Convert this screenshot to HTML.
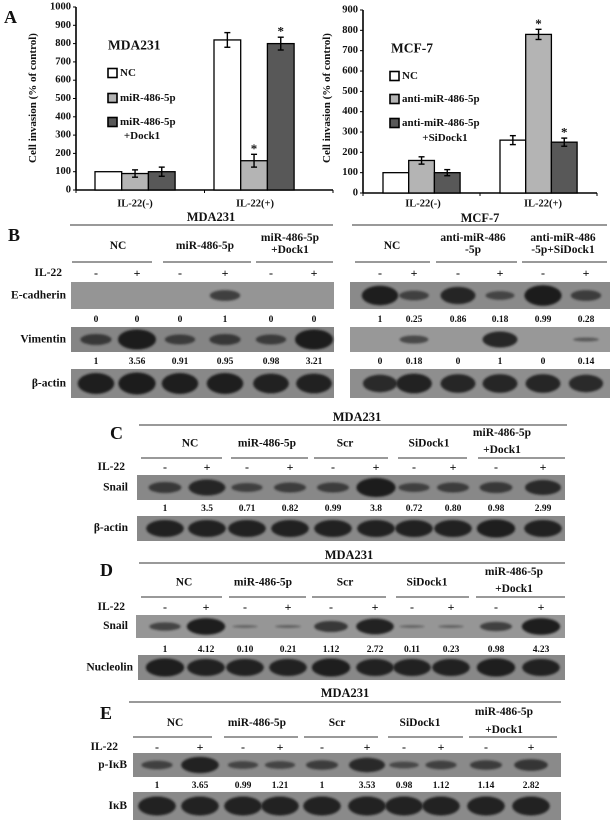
<!DOCTYPE html>
<html><head><meta charset="utf-8"><style>
html,body{margin:0;padding:0;background:#fff}
svg{display:block}
text{font-family:"Liberation Serif",serif;font-weight:bold;fill:#111}
</style></head><body>
<svg id="fig" width="612" height="823" viewBox="0 0 612 823" xmlns="http://www.w3.org/2000/svg">
<defs><filter id="bl" x="-20%" y="-50%" width="140%" height="200%"><feGaussianBlur stdDeviation="1.1"/></filter></defs>
</svg>
<script>
// ---------- Panel A data ----------
const catsA = ["IL-22(-)","IL-22(+)"];
const mdaNC = [100, 820];
const mdaMiR = [90, 160];
const mdaDock = [100, 800];
const mdaErrNC = [0, 40];
const mdaErrMiR = [20, 35];
const mdaErrDock = [25, 35];
const mdaTicks = [0,100,200,300,400,500,600,700,800,900,1000];
const mcfNC = [100, 260];
const mcfAnti = [160, 780];
const mcfSi = [100, 250];
const mcfErrNC = [0, 22];
const mcfErrAnti = [18, 25];
const mcfErrSi = [15, 20];
const mcfTicks = [0,100,200,300,400,500,600,700,800,900];

const S = document.getElementById('fig');
const NS = 'http://www.w3.org/2000/svg';
function el(tag, at, parent){ const e=document.createElementNS(NS,tag); for(const k in at) e.setAttribute(k,at[k]); (parent||S).appendChild(e); return e; }
function txt(x,y,s,size,anchor,name){ const t=el('text',{x:x,y:y,'font-size':size,'text-anchor':anchor||'middle','dominant-baseline':'central'}); t.textContent=s;
  
   return t; }

function barChart(o){
  const g=el('g',{});
  
  
  const y=v=>o.y0-(v/o.max)*(o.y0-o.yTop);
  el('line',{x1:o.ax,y1:o.yTop,x2:o.ax,y2:o.y0,stroke:'#000','stroke-width':1.6},g);
  el('line',{x1:o.ax,y1:o.y0,x2:o.xEnd,y2:o.y0,stroke:'#000','stroke-width':1.6},g);
  o.ticks.forEach(t=>{ el('line',{x1:o.ax-3,y1:y(t),x2:o.ax,y2:y(t),stroke:'#000'},g);
    txt(o.ax-5,y(t),String(t),10.5,'end','y-tick-label'); });
  const mid=(o.ax+o.xEnd)/2;
  [o.ax,mid,o.xEnd].forEach(xx=>el('line',{x1:xx,y1:o.y0,x2:xx,y2:o.y0+3,stroke:'#000'},g));
  const cols=['#ffffff','#b4b4b4','#585858'];
  o.series.forEach((s,si)=>{
    s.forEach((v,ci)=>{
      const bx=o.gx[ci]+si*o.bw;
      const r=el('rect',{x:bx,y:y(v),width:o.bw,height:o.y0-y(v),fill:cols[si],stroke:'#000','stroke-width':1.3},g);
      
      
      const e=o.errs[si][ci];
      if(e>0){ const cx=bx+o.bw/2;
        el('line',{x1:cx,y1:y(v+e),x2:cx,y2:y(v-e),stroke:'#000','stroke-width':1.4},g);
        el('line',{x1:cx-3,y1:y(v+e),x2:cx+3,y2:y(v+e),stroke:'#000','stroke-width':1.4},g);
        el('line',{x1:cx-3,y1:y(v-e),x2:cx+3,y2:y(v-e),stroke:'#000','stroke-width':1.4},g);
        if(o.star[si][ci]) txt(cx,y(v+e)-6,'*',13,'middle','significance-asterisk');
      }
    });
  });
  catsA.forEach((c,ci)=>txt(o.catX[ci],204,c,10.5,'middle','x-category-label'));
  const yt=txt(o.ytX,98,'Cell invasion (% of control)',11,'middle','y-axis-title');
  yt.setAttribute('transform',`rotate(-90 ${o.ytX} 98)`);
}
barChart({name:'mda231-invasion-chart',ax:76,xEnd:333,yTop:7,y0:190,max:1000,ticks:mdaTicks,gx:[95,214],bw:26.7,
  series:[mdaNC,mdaMiR,mdaDock],errs:[mdaErrNC,mdaErrMiR,mdaErrDock],star:[[0,0],[0,1],[0,1]],catX:[135,255],ytX:33});
barChart({name:'mcf7-invasion-chart',ax:363,xEnd:597,yTop:10,y0:193,max:900,ticks:mcfTicks,gx:[383,500],bw:25.7,
  series:[mcfNC,mcfAnti,mcfSi],errs:[mcfErrNC,mcfErrAnti,mcfErrSi],star:[[0,0],[0,1],[0,1]],catX:[423,543],ytX:327});

txt(4,17,'A',18,'start','panel-a-letter');
txt(108,45,'MDA231',13.5,'start','chart-title');
txt(391,48,'MCF-7',13.5,'start','chart-title');
function legend(x,y,fill,label){ const r=el('rect',{x:x,y:y-4.5,width:9,height:9,fill:fill,stroke:'#000','stroke-width':1.6});
  
  
  txt(x+12,y,label,11,'start','legend-entry'); }
legend(108,73,'#fff','NC'); legend(108,98,'#b4b4b4','miR-486-5p'); legend(108,122,'#585858','miR-486-5p');
txt(142,136,'+Dock1',11,'middle','legend-entry');
legend(390,76,'#fff','NC'); legend(390,99,'#b4b4b4','anti-miR-486-5p'); legend(390,123,'#585858','anti-miR-486-5p');
txt(445,138,'+SiDock1',11,'middle','legend-entry');

// ---------- Blots ----------
function hline(x1,x2,y,w){ el('line',{x1:x1,y1:y,x2:x2,y2:y,stroke:'#333','stroke-width':w||1}); }
function groups(list,y1,y2,uy){ list.forEach(g=>{ if(g.l.length==1) txt(g.c,(y1+y2)/2+2,g.l[0],11.5,'middle','group-label');
  else { txt(g.c,y1,g.l[0],11.5,'middle','group-label'); txt(g.c,y2,g.l[1],11.5,'middle','group-label'); }
  hline(g.a,g.b,uy,1); }); }
function signs(lanes,y,lx){ if(lx) txt(lx,y,'IL-22',11.5,'end','il22-label'); lanes.forEach((x,i)=>txt(x,y,i%2?'+':'-',12,'middle','treatment-sign')); }
function blot(name,x0,y0,x1,y1,lanes,ints,bg,lx,bw){
  const g=el('g',{});
  
  
  el('rect',{x:x0,y:y0,width:x1-x0,height:y1-y0,fill:bg},g);
  const cy=(y0+y1)/2;
  lanes.forEach((x,i)=>{ const v=ints[i]; if(v<=0) return;
    const b=el('ellipse',{cx:x,cy:cy,rx:(bw||19)*Math.min(1,0.6+v*0.4),ry:Math.max(1.5,(y1-y0)*0.4*Math.min(1,v)),fill:'#1a1a1a',opacity:Math.min(1,0.35+v*0.7),filter:'url(#bl)'},g);
    
    
  });
  if(lx) txt(lx,cy,name,11.5,'end','row-label');
}
function nums(lanes,y,arr){ lanes.forEach((x,i)=>txt(x,y,arr[i],9.5,'middle','quantification-value')); }

// Panel B
txt(8,235,'B',18,'start','panel-b-letter');
txt(211,217,'MDA231',12.5,'middle','cell-line-title'); hline(70,333,225);
txt(480,218,'MCF-7',12.5,'middle','cell-line-title'); hline(352,607,225);
groups([{c:118,l:['NC'],a:72,b:152},{c:205,l:['miR-486-5p'],a:163,b:251},{c:290,l:['miR-486-5p','+Dock1'],a:256,b:333},
  {c:392,l:['NC'],a:355,b:430},{c:473,l:['anti-miR-486','-5p'],a:436,b:517},{c:563,l:['anti-miR-486','-5p+SiDock1'],a:522,b:607}],238,250,262);
const bL=[96,137,180,225,271,314], bR=[380,414,458,500,543,586];
signs(bL,273,62); signs(bR,273,0);
blot('E-cadherin',71,282,334,309,bL,[0,0,0,0.5,0,0],'#959595',66);
blot('E-cadherin-mcf7',350,282,610,309,bR,[0.9,0.45,0.8,0.4,0.95,0.5],'#8a8a8a',0);
nums(bL,320,['0','0','0','1','0','0']); nums(bR,320,['1','0.25','0.86','0.18','0.99','0.28']);
blot('Vimentin',71,327,334,352,bL,[0.55,1,0.5,0.55,0.5,1],'#858585',66);
blot('Vimentin-mcf7',350,327,610,352,bR,[0,0.4,0,0.8,0,0.2],'#989898',0);
nums(bL,362,['1','3.56','0.91','0.95','0.98','3.21']); nums(bR,362,['0','0.18','0','1','0','0.14']);
blot('β-actin',71,369,334,398,bL,[0.9,0.95,0.9,0.9,0.85,0.85],'#888888',66);
blot('β-actin-mcf7',350,369,610,398,bR,[0.75,0.85,0.8,0.8,0.8,0.75],'#8e8e8e',0);

// Panel C
txt(110,433,'C',18,'start','panel-c-letter');
txt(357,417,'MDA231',12.5,'middle','cell-line-title'); hline(139,567,425);
groups([{c:190,l:['NC'],a:141,b:222},{c:267,l:['miR-486-5p'],a:231,b:308},{c:345,l:['Scr'],a:314,b:388},{c:429,l:['SiDock1'],a:398,b:467},{c:502,l:['miR-486-5p','+Dock1'],a:478,b:565}],433,450,458);
const cL=[165,207,247,290,333,376,414,453,496,543];
signs(cL,467,125);
blot('Snail',137,475,565,500,cL,[0.55,0.8,0.45,0.5,0.5,0.95,0.45,0.5,0.55,0.75],'#888888',128,20);
nums(cL,509,['1','3.5','0.71','0.82','0.99','3.8','0.72','0.80','0.98','2.99']);
blot('β-actin-c',137,516,565,541,cL,[0.85,0.85,0.85,0.85,0.85,0.85,0.85,0.85,0.9,0.85],'#888888',0,20);
txt(128,528,'β-actin',11.5,'end','row-label');

// Panel D
txt(100,570,'D',18,'start','panel-d-letter');
txt(349,555,'MDA231',12.5,'middle','cell-line-title'); hline(139,565,563);
groups([{c:184,l:['NC'],a:141,b:222},{c:263,l:['miR-486-5p'],a:229,b:306},{c:345,l:['Scr'],a:312,b:386},{c:427,l:['SiDock1'],a:396,b:469},{c:514,l:['miR-486-5p','+Dock1'],a:476,b:565}],572,589,597);
const dL=[165,206,245,288,331,375,412,451,496,541];
signs(dL,607,125);
blot('Snail-d',136,615,565,638,dL,[0.45,0.9,0.05,0.1,0.6,0.85,0.05,0.08,0.5,0.9],'#969696',0,20);
txt(128,626,'Snail',11.5,'end','row-label');
nums(dL,650,['1','4.12','0.10','0.21','1.12','2.72','0.11','0.23','0.98','4.23']);
blot('Nucleolin',138,655,565,680,dL,[0.9,0.85,0.85,0.85,0.9,0.85,0.85,0.85,0.9,0.85],'#888888',133,20);

// Panel E
txt(100,713,'E',18,'start','panel-e-letter');
txt(345,693,'MDA231',12.5,'middle','cell-line-title'); hline(129,561,702);
groups([{c:175,l:['NC'],a:133,b:212},{c:257,l:['miR-486-5p'],a:224,b:298},{c:337,l:['Scr'],a:304,b:378},{c:420,l:['SiDock1'],a:388,b:463},{c:504,l:['miR-486-5p','+Dock1'],a:469,b:557}],712,730,737);
const eL=[157,200,243,280,322,367,404,441,486,531];
signs(eL,747,118);
blot('p-IκB',133,753,561,777,eL,[0.45,0.85,0.4,0.4,0.5,0.75,0.35,0.45,0.5,0.6],'#8a8a8a',127,20);
nums(eL,786,['1','3.65','0.99','1.21','1','3.53','0.98','1.12','1.14','2.82']);
blot('IκB',133,792,561,820,eL,[0.85,0.85,0.85,0.85,0.85,0.85,0.85,0.85,0.85,0.85],'#8a8a8a',127,20);
</script>
</body></html>
